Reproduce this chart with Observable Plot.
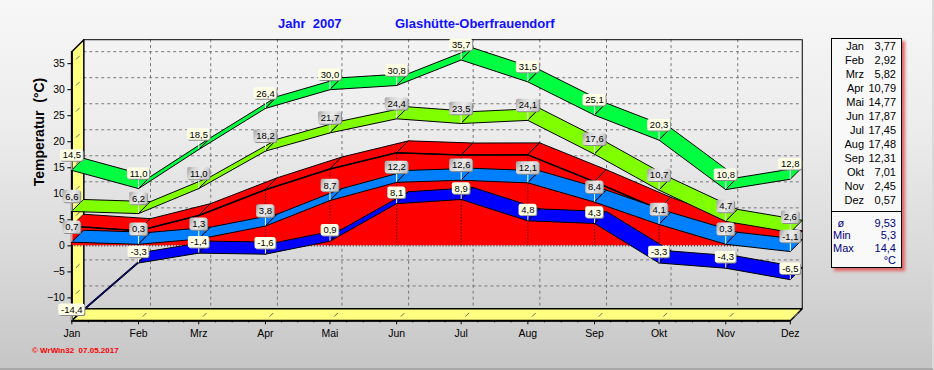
<!DOCTYPE html>
<html><head><meta charset="utf-8">
<script src="https://cdn.jsdelivr.net/npm/d3@7"></script>
<script src="https://cdn.jsdelivr.net/npm/@observablehq/plot@0.6"></script>
<style>
html,body{margin:0;padding:0;}
body{width:934px;height:370px;overflow:hidden;font-family:"Liberation Sans",Arial,sans-serif;}
#wrap{position:relative;width:934px;height:370px;background:linear-gradient(#f7f7f7 0%,#ececec 35%,#d9d9d9 70%,#c6c6c6 100%);box-sizing:border-box;border-bottom:2px solid #a8a8a8;border-right:2px solid #dadada;}
#chart{position:absolute;left:0;top:0;}
svg text{white-space:pre;}
.title{position:absolute;top:16px;font:bold 13px "Liberation Sans",Arial,sans-serif;color:#1010ff;white-space:pre;line-height:16px;}
#legend{position:absolute;left:830.5px;top:37.5px;width:71px;height:230px;box-sizing:border-box;border:1px solid #000;background:#f9f9f9;box-shadow:3px 3px 3px #e06666;font-size:11px;}
#legend div{position:absolute;line-height:14px;white-space:pre;}
#copy{position:absolute;left:32px;top:346px;font:bold 8px "Liberation Sans",Arial,sans-serif;color:#ff0000;white-space:pre;}
</style></head><body>
<svg width="0" height="0" style="position:absolute">
<defs>
<linearGradient id="lblGrey" x1="0" y1="0" x2="1" y2="0.3">
<stop offset="0" stop-color="#9c9c9c"/><stop offset="0.3" stop-color="#d6d6d6"/><stop offset="0.65" stop-color="#ebebeb"/><stop offset="1" stop-color="#c6c6c6"/>
</linearGradient>
</defs></svg>
<div id="wrap">
<div id="chart"></div>
<div class="title" style="left:278px">Jahr  2007</div>
<div class="title" style="left:395px">Glashütte-Oberfrauendorf</div>
<div id="legend"></div>
<div id="copy">© WrWin32  07.05.2017</div>
</div>
<script>
// ---- data ----
const monthLabels = ["Jan","Feb","Mrz","Apr","Mai","Jun","Jul","Aug","Sep","Okt","Nov","Dez"];
const absMax  = [14.5, 11.0, 18.5, 26.4, 30.0, 30.8, 35.7, 31.5, 25.1, 20.3, 10.8, 12.8];
const meanMax = [6.6, 6.2, 11.0, 18.2, 21.7, 24.4, 23.5, 24.1, 17.6, 10.7, 4.7, 2.6];
const meanT   = [3.77, 2.92, 5.82, 10.79, 14.77, 17.87, 17.45, 17.48, 12.31, 7.01, 2.45, 0.57];
const meanMin = [0.7, 0.3, 1.3, 3.8, 8.7, 12.2, 12.6, 12.1, 8.4, 4.1, 0.3, -1.1];
const absMin  = [-14.4, -3.3, -1.4, -1.6, 0.9, 8.1, 8.9, 4.8, 4.3, -3.3, -4.3, -6.5];
const yTicks  = [-10, -5, 0, 5, 10, 15, 20, 25, 30, 35];
const statLabels = ["ø", "Min", "Max"];
const statValues = ["9,53", "5,3", "14,4"];
const unitLabel = "°C";
const yTitle = "Temperatur  (°C)";

// ---- layout ----
const W = 934, H = 370, mL = 71.5, mR = 142.5, mT = 51.3, mB = 49, DEPTH = 12;
const dates = monthLabels.map((m, i) => new Date(Date.UTC(2007, i, 1)));
const xDom = [dates[0], dates[dates.length - 1]];
const yDom = [-14.4, 37.3];
const msPerPx = (xDom[1] - xDom[0]) / (W - mL - mR);
const uPerPx = (yDom[1] - yDom[0]) / (H - mT - mB);
const DXt = DEPTH * msPerPx, DYv = DEPTH * uPerPx;
const sh = (d, k) => new Date(+d + k * DXt);

function ribbon(vals, key) {
  const out = [];
  for (let i = 0; i < vals.length - 1; i++) {
    const a = dates[i], b = dates[i + 1], s = key + i;
    out.push({s, x: a, y: vals[i]}, {s, x: b, y: vals[i + 1]},
             {s, x: sh(b, 1), y: vals[i + 1] + DYv}, {s, x: sh(a, 1), y: vals[i] + DYv});
  }
  return out;
}
const pts = vals => vals.map((v, i) => ({x: dates[i], y: v}));

const wall = [{x: xDom[0], y: yDom[1]}, {x: sh(xDom[0], 1), y: yDom[1] + DYv}, {x: sh(xDom[0], 1), y: yDom[0] + DYv}, {x: xDom[0], y: yDom[0]}];
const floor = [{x: xDom[0], y: yDom[0]}, {x: sh(xDom[0], 1), y: yDom[0] + DYv}, {x: sh(xDom[1], 1), y: yDom[0] + DYv}, {x: xDom[1], y: yDom[0]}];

const minorTicks = [];
for (let i = 0; i < dates.length - 1; i++)
  for (let k = 1; k < 4; k++) minorTicks.push(new Date(+dates[i] + k * (dates[i + 1] - dates[i]) / 4));

const ctx = document.createElement("canvas").getContext("2d");
ctx.font = "9.5px 'Liberation Sans'";
const fmt1 = v => v.toFixed(1).replace(".", ",");
function labels(vals, off, h, fill) {
  return vals.map((v, i) => {
    const t = fmt1(v), w = ctx.measureText(t).width + 4.5;
    return {x: dates[i], v, t, fill, c: v + off * uPerPx,
      x1: new Date(+dates[i] - w / 2 * msPerPx), x2: new Date(+dates[i] + w / 2 * msPerPx),
      y1: v + (off - h / 2) * uPerPx, y2: v + (off + h / 2) * uPerPx};
  });
}
const allLabels = [
  ...labels(absMax, 15, 11.5, "#ffffe6"),
  ...labels(meanMax, 15, 12.5, "url(#lblGrey)"),
  ...labels(meanMin, 15, 12.5, "url(#lblGrey)"),
  ...labels(absMin, 11, 11.5, "#ffffe6")
];

const grid = {stroke: "#777", strokeDasharray: "3,3", strokeWidth: 1, dx: DEPTH, dy: -DEPTH};
const rib = (vals, key, color) => Plot.line(ribbon(vals, key), {x: "x", y: "y", z: "s", fill: color, stroke: "#000", strokeWidth: 1, curve: "linear-closed", strokeLinejoin: "round"});

const chart = Plot.plot({
  width: W, height: H, marginLeft: mL, marginRight: mR, marginTop: mT, marginBottom: mB,
  x: {type: "utc", domain: xDom},
  y: {type: "linear", domain: yDom},
  style: {background: "transparent", overflow: "visible", fontFamily: "'Liberation Sans', Arial, sans-serif", color: "#000"},
  marks: [
    Plot.ruleY(yTicks, grid),
    Plot.ruleX(dates.slice(1, -1), grid),
    Plot.line(wall, {x: "x", y: "y", fill: "#ffff80", stroke: "#000", curve: "linear-closed"}),
    Plot.line(floor, {x: "x", y: "y", fill: "#ffff80", stroke: "#000", curve: "linear-closed"}),
    Plot.link(yTicks, {x1: () => sh(xDom[0], 0.35), x2: () => sh(xDom[0], 0.65), y1: v => v + 0.35 * DYv, y2: v => v + 0.65 * DYv, stroke: "#666"}),
    Plot.link(dates, {x1: d => sh(d, 0.35), x2: d => sh(d, 0.65), y1: () => yDom[0] + 0.35 * DYv, y2: () => yDom[0] + 0.65 * DYv, stroke: "#666"}),
    Plot.ruleY([yDom[1]], {dx: DEPTH, dy: -DEPTH, stroke: "#000"}),
    Plot.ruleX([xDom[1]], {dx: DEPTH, dy: -DEPTH, stroke: "#000"}),
    Plot.ruleX([xDom[0]], {stroke: "#000", strokeWidth: 2}),
    Plot.ruleY([yDom[0]], {stroke: "#000", strokeWidth: 2}),
    Plot.axisY(yTicks, {tickSize: 4, tickPadding: 3, fontSize: 10.5, label: null}),
    Plot.axisX(dates, {tickSize: 4, tickPadding: 5, fontSize: 10.5, label: null, tickFormat: d => monthLabels[d.getUTCMonth()]}),
    Plot.axisX(minorTicks, {tickSize: 2, label: null, tickFormat: () => ""}),
    Plot.text([yTitle], {frameAnchor: "left", dx: -32.5, rotate: -90, fontSize: 14, fontWeight: "bold", fill: "#000"}),
    // mean temperature 3D area
    Plot.areaY(pts(meanT), {x: "x", y: "y", fill: "#ff0000"}),
    rib(meanT, "m", "#ff0000"),
    Plot.line(pts(meanT), {x: "x", y: "y", stroke: "#000"}),
    Plot.ruleX(pts(meanT), {x: "x", y1: 0, y2: "y", stroke: "#000", strokeDasharray: "1,2"}),
    Plot.ruleY([0], {stroke: "#000", strokeDasharray: "1,2"}),
    rib(meanMin, "b", "#0080ff"),
    rib(absMin, "d", "#0000ff"),
    rib(meanMax, "l", "#80ff00"),
    rib(absMax, "g", "#00ff40"),
    // labels
    Plot.ruleX(allLabels, {x: "x", y1: "v", y2: "y1", stroke: "#fff", strokeWidth: 1}),
    Plot.rect(allLabels, {x1: "x1", x2: "x2", y1: "y1", y2: "y2", fill: "#8c8c8c", dx: 1, dy: 1, rx: 2}),
    Plot.rect(allLabels, {x1: "x1", x2: "x2", y1: "y1", y2: "y2", fill: d => d.fill, rx: 2}),
    Plot.text(allLabels, {x: "x", y: "c", text: "t", fontSize: 9.5, fill: "#000"})
  ]
});
document.getElementById("chart").appendChild(chart);
</script>
<script>
// legend box
const lg = document.getElementById("legend");
function add(txt, top, right, left, color) {
  const d = document.createElement("div");
  d.textContent = txt; d.style.top = top + "px";
  if (right != null) d.style.right = right + "px";
  if (left != null) d.style.left = left + "px";
  if (color) d.style.color = color;
  lg.appendChild(d);
}
monthLabels.forEach((m, i) => {
  add(m, 0.4 + 14.03 * i, 36.5, null);
  add(meanT[i].toFixed(2).replace(".", ","), 0.4 + 14.03 * i, 4.5, null);
});
const sep = document.createElement("div");
sep.style.cssText = "left:0;right:0;top:172.5px;height:0;border-top:1px solid #000;";
lg.appendChild(sep);
statLabels.forEach((s, i) => {
  add(s, 177.5 + 12.3 * i, null, s === "ø" ? 6 : 1.5, "#000080");
  add(statValues[i], 177.5 + 12.3 * i, 4.5, null, "#000080");
});
add(unitLabel, 177.5 + 12.3 * 3, 4.5, null, "#000080");
</script>
</body></html>
